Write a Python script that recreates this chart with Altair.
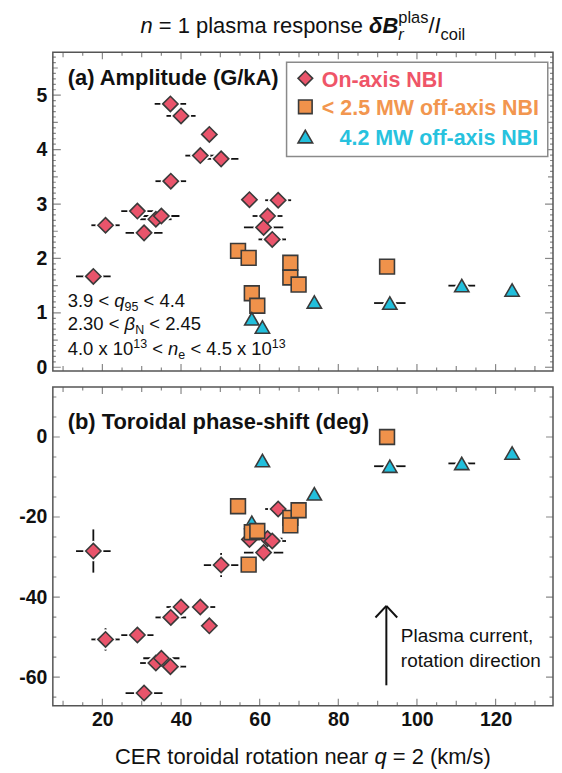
import altair as alt
import pandas as pd

# ---------------- data ----------------
# On-axis NBI (diamonds)
on_x     = [17.7, 20.8, 28.9, 30.6, 33.6, 35.0, 37.3, 37.4, 40.0, 44.9, 47.2, 50.2, 57.4, 61.0, 62.0, 63.2, 64.7]
on_amp   = [1.67, 2.61, 2.87, 2.47, 2.72, 2.78, 4.84, 3.42, 4.62, 3.89, 4.28, 3.83, 3.08, 2.57, 2.78, 2.35, 3.07]
on_phase = [-28.5, -50.6, -49.5, -64.0, -56.5, -55.3, -57.4, -45.1, -42.5, -42.5, -47.2, -32.0, -25.6, -28.9, -25.4, -26.0, -18.0]
on_xerr  = [4.4, 3.6, 4.1, 4.7, 4.0, 4.6, 4.0, 3.9, 3.7, 3.8, 0.0, 4.4, 0.0, 5.0, 3.8, 3.5, 3.3]
on_perr  = [5.4, 2.8, 0, 0, 0, 0, 0, 0, 0, 0, 0, 3.0, 0, 0, 0, 0, 0]

# < 2.5 MW off-axis NBI (squares)
off_x     = [54.5, 57.2, 58.0, 59.4, 67.8, 67.8, 69.9, 92.4]
off_amp   = [2.14, 2.01, 1.36, 1.13, 1.92, 1.65, 1.52, 1.85]
off_phase = [-17.3, -31.9, -23.8, -23.5, -20.2, -22.1, -18.3, 0.0]

# 4.2 MW off-axis NBI (triangles)
hi_x     = [58.0, 60.7, 73.9, 93.1, 111.4, 124.2]
hi_amp   = [0.89, 0.74, 1.20, 1.18, 1.50, 1.42]
hi_phase = [-21.3, -5.9, -14.2, -7.3, -6.6, -4.0]
hi_xerr  = [0.0, 0.0, 0.0, 4.0, 3.4, 0.0]

x_labels = [20, 40, 60, 80, 100, 120]
amp_labels = [0, 1, 2, 3, 4, 5]
phase_labels = [0, -20, -40, -60]

series_keys = ["on", "off", "hi"]
series_names = ["On-axis NBI", "< 2.5 MW off-axis NBI", "4.2 MW off-axis NBI"]

# ---------------- style ----------------
FONT = "Liberation Sans"
INK = "#111111"
W, H = 502, 320
SPACING = 8
XDOM = [7.4, 134.6]
AMP_DOM = [-0.07, 5.79]
PH_DOM = [-67.2, 12.5]
FILLS = ["#e9546b", "#f0924b", "#22bfdc"]
TEXTC = ["#ef5568", "#f2964f", "#27c2de"]
SHAPES = ["diamond", "square", "triangle-up"]
SIZES = [235, 205, 235]
EDGE = "#3a3a3a"

rows = []
for i in range(len(on_x)):
    rows.append(dict(series="on", x=on_x[i], amp=on_amp[i], phase=on_phase[i], xerr=on_xerr[i], perr=on_perr[i]))
for i in range(len(off_x)):
    rows.append(dict(series="off", x=off_x[i], amp=off_amp[i], phase=off_phase[i], xerr=0.0, perr=0.0))
for i in range(len(hi_x)):
    rows.append(dict(series="hi", x=hi_x[i], amp=hi_amp[i], phase=hi_phase[i], xerr=hi_xerr[i], perr=0.0))
df = pd.DataFrame(rows)
df["xlo"] = df["x"] - df["xerr"]
df["xhi"] = df["x"] + df["xerr"]
df["plo"] = df["phase"] - df["perr"]
df["phi"] = df["phase"] + df["perr"]
df["ord_a"] = df["series"].map({"on": 1, "off": 2, "hi": 3})
df["ord_b"] = df["series"].map({"on": 1, "hi": 2, "off": 3})

ONE = pd.DataFrame({"k": [0]})

# tick tables (inward ticks on all four sides)
xt_v = list(range(10, 131, 5))
xticks = pd.DataFrame({"v": xt_v, "s": [14 if v % 20 == 0 else (10 if v % 10 == 0 else 7) for v in xt_v]})
at_i = list(range(0, 58))
aticks = pd.DataFrame({"v": [i / 10 for i in at_i], "s": [16 if i % 10 == 0 else (10 if i % 5 == 0 else 6) for i in at_i]})
pt_v = list(range(-65, 11, 5))
pticks = pd.DataFrame({"v": pt_v, "s": [14 if v % 20 == 0 else 7 for v in pt_v]})

# Helvetica-compatible advance widths (per 1000 em) for Liberation Sans
W_REG = {' ': 278, '=': 584, '<': 584, '.': 278, ',': 278, '(': 333, ')': 333, '/': 278, '-': 333,
         'C': 722, 'E': 667, 'R': 722, 'P': 667, 'I': 278, 'N': 722, 'B': 667, 'M': 833, 'W': 944,
         'a': 556, 'b': 556, 'c': 500, 'd': 556, 'e': 556, 'f': 278, 'g': 556, 'h': 556, 'i': 222,
         'k': 500, 'l': 222, 'm': 833, 'n': 556, 'o': 556, 'p': 556, 'q': 556, 'r': 333, 's': 500,
         't': 278, 'u': 556, 'x': 500, 'δ': 556, 'β': 575}
W_BOLD = {' ': 278, '<': 584, '.': 278, '(': 333, ')': 333, '/': 278, '-': 333,
          'A': 722, 'B': 722, 'G': 778, 'I': 278, 'M': 833, 'N': 722, 'O': 778, 'T': 611, 'W': 944,
          'a': 556, 'b': 611, 'c': 556, 'd': 611, 'e': 556, 'f': 333, 'g': 611, 'h': 611, 'i': 278,
          'k': 556, 'l': 278, 'm': 889, 'n': 611, 'o': 611, 'p': 611, 'r': 389, 's': 556, 't': 333,
          'u': 611, 'x': 556, 'δ': 611}


def tw(s, size, bold=False):
    tbl = W_BOLD if bold else W_REG
    return sum(tbl.get(c, 556) for c in s) * size / 1000.0


def txt(text, x, y, size, weight="normal", style="normal", color=INK, align="left"):
    return alt.Chart(ONE).mark_text(text=text, font=FONT, fontSize=size, fontWeight=weight,
                                    fontStyle=style, align=align, baseline="alphabetic",
                                    color=color).encode(x=alt.value(x), y=alt.value(y))


def rich(tokens, x0, y0, anchor="left"):
    # token: (text, size, weight, style, dy, advance)
    total = sum(tw(t[0], t[1], t[2] == "bold") for t in tokens if t[5])
    x = x0 if anchor == "left" else x0 - total / 2.0
    out = []
    for text, size, weight, style, dy, adv in tokens:
        bold = weight == "bold"
        lead = len(text) - len(text.lstrip(" "))
        out.append(txt(text.strip(" "), x + tw(" " * lead, size, bold), y0 + dy, size, weight, style))
        if adv:
            x += tw(text, size, bold)
    return out


sx = W / 506.3
sy = H / 321.3


def ax(xp):
    return (xp - 51.7) * sx


def ay_top(yp):
    return (yp - 46.7) * sy


def ay_bot(yp):
    return (yp - 382.7) * sy


xs = alt.Scale(domain=XDOM, nice=False, zero=False)


def yaxis(vals):
    return alt.Axis(values=vals, ticks=False, tickSize=0, domain=False, grid=False, labelPadding=6,
                    minExtent=40, maxExtent=40, labelExpr="datum.value", labelFont=FONT,
                    labelFontSize=19.5, labelFontWeight="bold", labelColor=INK, title=None)


bottom_xaxis = alt.Axis(values=x_labels, ticks=False, tickSize=0, domain=False, grid=False,
                        labelPadding=5, labelFont=FONT, labelFontSize=19.5, labelFontWeight="bold",
                        labelColor=INK, labelFlush=False, title=None)


def build_panel(yfield, ys, yax, xax, tdf, order_field, with_perr):
    X = alt.X("x:Q", scale=xs, axis=xax, title=None)
    Y = alt.Y(f"{yfield}:Q", scale=ys, axis=yax, title=None)
    shape = alt.Shape("series:N", scale=alt.Scale(domain=series_keys, range=SHAPES), legend=None)
    size = alt.Size("series:N", scale=alt.Scale(domain=series_keys, range=SIZES), legend=None)
    fill = alt.Fill("series:N", scale=alt.Scale(domain=series_keys, range=FILLS), legend=None)
    base = alt.Chart(df)
    lay = []
    # data layers first (they carry the axes)
    lay.append(base.transform_filter("datum.xerr > 0").mark_rule(color="#111", strokeWidth=1.8).encode(
        x=alt.X("xlo:Q", scale=xs, axis=xax, title=None), x2="xhi:Q", y=Y))
    if with_perr:
        lay.append(base.transform_filter("datum.perr > 0").mark_rule(color="#111", strokeWidth=1.8).encode(
            x=X, y=alt.Y("plo:Q", scale=ys, axis=yax, title=None), y2="phi:Q"))
    lay.append(base.mark_point(filled=True, fill="white", stroke="white", strokeWidth=5,
                               strokeJoin="round", opacity=1).encode(
        x=X, y=Y, shape=shape, size=size, order=alt.Order(f"{order_field}:Q")))
    lay.append(base.mark_point(filled=True, stroke=EDGE, strokeWidth=1.6, opacity=1, fillOpacity=1).encode(
        x=X, y=Y, shape=shape, size=size, fill=fill, order=alt.Order(f"{order_field}:Q")))
    # inward ticks on all four sides (same axis definitions, so the merge keeps the labels)
    for yv in (0, H):
        lay.append(alt.Chart(xticks).mark_tick(clip=True, color="#555", thickness=1.2).encode(
            x=alt.X("v:Q", scale=xs, axis=xax, title=None), y=alt.value(yv),
            size=alt.Size("s:Q", scale=None)))
    for xv in (0, W):
        lay.append(alt.Chart(tdf).mark_tick(clip=True, color="#555", thickness=1.2).encode(
            y=alt.Y("v:Q", scale=ys, axis=yax, title=None), x=alt.value(xv),
            size=alt.Size("s:Q", scale=None)))
    return lay


# ---------------- top panel ----------------
ys_a = alt.Scale(domain=AMP_DOM, nice=False, zero=False)
top_layers = build_panel("amp", ys_a, yaxis(amp_labels), None, aticks, "ord_a", False)

# title
TS, TSS = 22, 16.5
top_layers += rich([
    ("n", TS, "normal", "italic", 0, True),
    (" = 1 plasma response ", TS, "normal", "normal", 0, True),
    ("δB", TS, "bold", "italic", 0, True),
    ("r", TSS, "normal", "italic", 7, False),
    ("plas", TSS, "normal", "normal", -10, True),
    ("/", TS, "normal", "normal", 0, True),
    ("I", TS, "normal", "italic", 0, True),
    ("coil", TSS, "normal", "normal", 7, True),
], W / 2.0, -19, anchor="center")

top_layers.append(txt("(a) Amplitude (G/kA)", ax(66.7), ay_top(80), 22, weight="bold"))

# conditions
cfs, cfb = 18.5, 12.5
top_layers += rich([("3.9 < ", cfs, "normal", "normal", 0, True), ("q", cfs, "normal", "italic", 0, True),
                    ("95", cfb, "normal", "normal", 4, True), (" < 4.4", cfs, "normal", "normal", 0, True)],
                   ax(66.7), ay_top(303))
top_layers += rich([("2.30 < ", cfs, "normal", "normal", 0, True), ("β", cfs, "normal", "italic", 0, True),
                    ("N", cfb, "normal", "normal", 4, True), (" < 2.45", cfs, "normal", "normal", 0, True)],
                   ax(66.7), ay_top(326.7))
top_layers += rich([("4.0 x 10", cfs, "normal", "normal", 0, True), ("13", cfb, "normal", "normal", -7, True),
                    (" < ", cfs, "normal", "normal", 0, True), ("n", cfs, "normal", "italic", 0, True),
                    ("e", cfb, "normal", "normal", 4, True), (" < 4.5 x 10", cfs, "normal", "normal", 0, True),
                    ("13", cfb, "normal", "normal", -7, True)],
                   ax(66.7), ay_top(351.7))

# legend (drawn by hand)
top_layers.append(alt.Chart(ONE).mark_rect(fill="white", stroke="#8a8a8a", strokeWidth=1.5).encode(
    x=alt.value(ax(288.3)), x2=alt.value(ax(552.7)), y=alt.value(ay_top(56.7)), y2=alt.value(ay_top(151.7))))
leg_y = [73.0, 101.7, 131.7]
for k in range(3):
    top_layers.append(alt.Chart(ONE).mark_point(shape=SHAPES[k], filled=True, fill=FILLS[k], stroke=EDGE,
                                                strokeWidth=1.6, size=SIZES[k] - 20, opacity=1).encode(
        x=alt.value(ax(307.3)), y=alt.value(ay_top(leg_y[k]))))
top_layers.append(txt(series_names[0], ax(324), ay_top(81.7), 21.5, weight="bold", color=TEXTC[0]))
top_layers.append(txt(series_names[1], ax(324), ay_top(110), 21.5, weight="bold", color=TEXTC[1]))
top_layers.append(txt(series_names[2], ax(543), ay_top(140), 21.5, weight="bold", color=TEXTC[2], align="right"))

top = alt.layer(*top_layers).properties(width=W, height=H)

# ---------------- bottom panel ----------------
ys_b = alt.Scale(domain=PH_DOM, nice=False, zero=False)
bot_layers = build_panel("phase", ys_b, yaxis(phase_labels), bottom_xaxis, pticks, "ord_b", True)

bot_layers.append(txt("(b) Toroidal phase-shift (deg)", ax(66.7), ay_bot(425.5), 22, weight="bold"))

# arrow
ax0 = ax(389.3)
for (x1, y1, x2, y2) in [(ax0, ay_bot(683.3), ax0, ay_bot(603.3)),
                         (ax(378.3), ay_bot(615), ax0, ay_bot(603.3)),
                         (ax(400.3), ay_bot(615), ax0, ay_bot(603.3))]:
    bot_layers.append(alt.Chart(ONE).mark_rule(color=INK, strokeWidth=2).encode(
        x=alt.value(x1), x2=alt.value(x2), y=alt.value(y1), y2=alt.value(y2)))
bot_layers.append(txt("Plasma current,", ax(404), ay_bot(640), 19))
bot_layers.append(txt("rotation direction", ax(404), ay_bot(665), 19))

# x-axis title
bot_layers += rich([("CER toroidal rotation near ", 22, "normal", "normal", 0, True),
                    ("q", 22, "normal", "italic", 0, True),
                    (" = 2 (km/s)", 22, "normal", "normal", 0, True)],
                   W / 2.0, H + 58, anchor="center")

bottom = alt.layer(*bot_layers).properties(width=W, height=H)

chart = alt.vconcat(top, bottom, spacing=SPACING).properties(
    padding={"left": 4, "right": 0, "top": 0, "bottom": 0}
).configure_view(stroke="#555", strokeWidth=1.5)

chart.save("out.html", embed_options={"renderer": "svg", "actions": False})
